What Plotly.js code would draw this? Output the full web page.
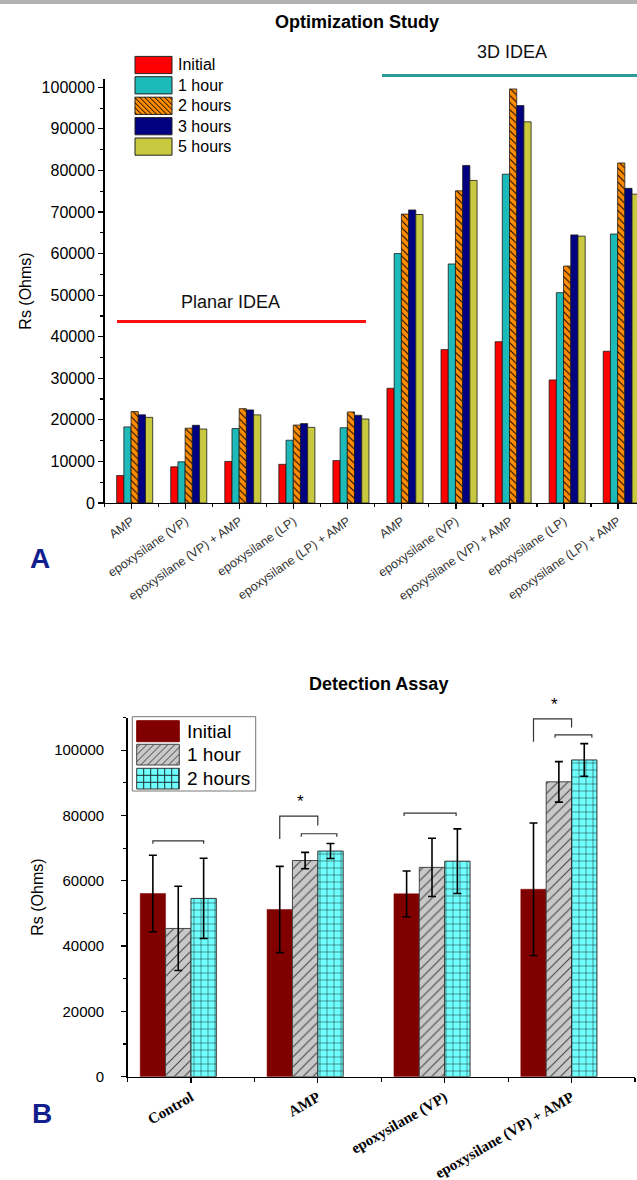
<!DOCTYPE html>
<html>
<head>
<meta charset="utf-8">
<script src="https://cdn.plot.ly/plotly-3.0.1.min.js"></script>
<style>html,body{margin:0;padding:0;background:#fff;}#chart{width:637px;height:1180px;}</style>
</head>
<body>
<div id="chart"></div>
<script>
// ---------- Data: Optimization Study (panel A) ----------
const categoriesA = ['AMP', 'epoxysilane (VP)', 'epoxysilane (VP) + AMP', 'epoxysilane (LP)', 'epoxysilane (LP) + AMP',
                     'AMP', 'epoxysilane (VP)', 'epoxysilane (VP) + AMP', 'epoxysilane (LP)', 'epoxysilane (LP) + AMP'];
const seriesNamesA = ['Initial', '1 hour', '2 hours', '3 hours', '5 hours'];
const initialA = [6600, 8700, 10000, 9300, 10200, 27600, 36900, 38800, 29600, 36500];
const hour1A   = [18300, 9900, 17900, 15100, 18100, 60000, 57500, 79100, 50600, 64700];
const hours2A  = [22000, 18000, 22700, 18750, 21900, 69500, 75100, 99600, 57000, 81800];
const hours3A  = [21200, 18700, 22400, 19100, 21100, 70500, 81200, 95600, 64500, 75700];
const hours5A  = [20600, 17800, 21200, 18200, 20200, 69400, 77600, 91700, 64200, 74300];
const yTicksA  = [0, 10000, 20000, 30000, 40000, 50000, 60000, 70000, 80000, 90000, 100000];

// ---------- Data: Detection Assay (panel B) ----------
const categoriesB = ['Control', 'AMP', 'epoxysilane (VP)', 'epoxysilane (VP) + AMP'];
const seriesNamesB = ['Initial', '1 hour', '2 hours'];
const initialB    = [56100, 51200, 56000, 57400];
const initialErrB = [11700, 13200, 7000, 20300];
const hour1B      = [45400, 66200, 64100, 90300];
const hour1ErrB   = [12900, 2500, 8900, 6200];
const hours2B     = [54600, 69100, 66000, 97000];
const hours2ErrB  = [12300, 2300, 9900, 5000];
const yTicksB     = [0, 20000, 40000, 60000, 80000, 100000];

// ---------- helpers (pixel -> paper) ----------
const W = 637, H = 1180;
const px = x => x / W;
const py = y => 1 - y / H;

function hatch(x0, y0, x1, y1, s, kind) {
  let d = '';
  const seg = (ax, ay, bx, by) => { d += 'M' + px(ax) + ',' + py(ay) + 'L' + px(bx) + ',' + py(by); };
  if (kind === '\\') {
    for (let c = y0 - x1 + s / 2; c < y1 - x0; c += s) {
      const xa = Math.max(x0, y0 - c), xb = Math.min(x1, y1 - c);
      if (xb > xa) seg(xa, xa + c, xb, xb + c);
    }
  } else if (kind === '/') {
    for (let c = x0 + y0 + s / 2; c < x1 + y1; c += s) {
      const xa = Math.max(x0, c - y1), xb = Math.min(x1, c - y0);
      if (xb > xa) seg(xa, c - xa, xb, c - xb);
    }
  } else {
    for (let x = x0 + s; x < x1 - 0.5; x += s) seg(x, y0, x, y1);
    for (let y = y0 + s; y < y1 - 0.5; y += s) seg(x0, y, x1, y);
  }
  return d;
}

// ---------- styles ----------
const stylesA = [
  {color: '#FF0000'},
  {color: '#1DBABA'},
  {color: '#FF8C00', pattern: {shape: '\\', fgcolor: '#000', bgcolor: '#FF8C00', size: 5, solidity: 0.2, fillmode: 'replace'}},
  {color: '#000080'},
  {color: '#C9C940'}
];
const valuesA = [initialA, hour1A, hours2A, hours3A, hours5A];
const barWA = 0.1333, startA = -0.275;
const idxA = categoriesA.map((_, i) => i);

const traces = [];
valuesA.forEach((vals, i) => {
  const st = stylesA[i];
  const marker = {color: st.color, line: {color: '#1a1a1a', width: 0.8}};
  if (st.pattern) marker.pattern = st.pattern;
  traces.push({
    type: 'bar', name: seriesNamesA[i], x: idxA, y: vals,
    offset: startA + i * barWA, width: barWA,
    marker: marker, xaxis: 'x', yaxis: 'y', hoverinfo: 'y'
  });
});

const valuesB = [initialB, hour1B, hours2B];
const errsB = [initialErrB, hour1ErrB, hours2ErrB];
const stylesB = [
  {color: '#800000', line: {color: '#800000', width: 0.5}},
  {color: '#C8C8C8', line: {color: '#444', width: 1},
   pattern: {shape: '/', fgcolor: '#444', bgcolor: '#C8C8C8', size: 7, solidity: 0.15, fillmode: 'replace'}},
  {color: '#70FFFF', line: {color: '#333', width: 1},
   pattern: {shape: '+', fgcolor: '#1a3030', bgcolor: '#70FFFF', size: 7, solidity: 0.14, fillmode: 'replace'}}
];
const barWB = 0.2, startB = -0.4;
const idxB = categoriesB.map((_, i) => i);
valuesB.forEach((vals, i) => {
  const st = stylesB[i];
  const marker = {color: st.color, line: st.line};
  if (st.pattern) marker.pattern = st.pattern;
  traces.push({
    type: 'bar', name: seriesNamesB[i], x: idxB, y: vals,
    offset: startB + i * barWB, width: barWB,
    marker: marker, xaxis: 'x2', yaxis: 'y2', hoverinfo: 'y',
    error_y: {type: 'data', array: errsB[i], visible: true, color: '#000', thickness: 1.6, width: 4}
  });
});

// ---------- shapes & annotations ----------
const shapes = [];
const annotations = [];

// gray strip on top
shapes.push({type: 'rect', xref: 'paper', yref: 'paper', x0: 0, x1: 1, y0: py(4), y1: 1, fillcolor: '#B3B3B3', line: {width: 0}});

// Planar / 3D IDEA markers
shapes.push({type: 'line', xref: 'paper', yref: 'paper', x0: px(117), x1: px(366), y0: py(321.5), y1: py(321.5), line: {color: '#FF1010', width: 3}});
shapes.push({type: 'line', xref: 'paper', yref: 'paper', x0: px(382), x1: px(640), y0: py(75.5), y1: py(75.5), line: {color: '#2A9C9C', width: 3}});
annotations.push({xref: 'paper', yref: 'paper', x: px(230.5), y: py(302), text: 'Planar IDEA', showarrow: false, xanchor: 'center', yanchor: 'middle', font: {size: 18, color: '#111'}});
annotations.push({xref: 'paper', yref: 'paper', x: px(511.5), y: py(52.5), text: '3D IDEA', showarrow: false, xanchor: 'center', yanchor: 'middle', font: {size: 18, color: '#111'}});

// panel letters and second title
annotations.push({xref: 'paper', yref: 'paper', x: px(40), y: py(558), text: '<b>A</b>', showarrow: false, xanchor: 'center', yanchor: 'middle', font: {size: 28, color: '#12208E'}});
annotations.push({xref: 'paper', yref: 'paper', x: px(42), y: py(1113), text: '<b>B</b>', showarrow: false, xanchor: 'center', yanchor: 'middle', font: {size: 28, color: '#12208E'}});
annotations.push({xref: 'paper', yref: 'paper', x: px(378), y: py(684), text: '<b>Detection Assay</b>', showarrow: false, xanchor: 'center', yanchor: 'middle', font: {size: 18, color: '#000'}});

// legend A (custom, no frame)
const legA = [
  {fill: '#FF0000'}, {fill: '#1DBABA'}, {fill: '#FF8C00', hatch: '\\'}, {fill: '#000080'}, {fill: '#C9C940'}
];
const legACenters = [65, 85.3, 105.8, 126.2, 146.6];
legA.forEach((it, i) => {
  const yc = legACenters[i], x0 = 135, x1 = 172, y0 = yc - 8.6, y1 = yc + 8.6;
  shapes.push({type: 'rect', xref: 'paper', yref: 'paper', x0: px(x0), x1: px(x1), y0: py(y1), y1: py(y0), fillcolor: it.fill, line: {color: '#222', width: 1}});
  if (it.hatch) shapes.push({type: 'path', xref: 'paper', yref: 'paper', path: hatch(x0, y0, x1, y1, 5, it.hatch), line: {color: '#000', width: 1}});
  annotations.push({xref: 'paper', yref: 'paper', x: px(176), y: py(yc), text: seriesNamesA[i], showarrow: false, xanchor: 'left', yanchor: 'middle', font: {size: 16, color: '#000'}});
});

// legend B (framed)
shapes.push({type: 'rect', xref: 'paper', yref: 'paper', x0: px(132.3), x1: px(255.7), y0: py(791), y1: py(716.7), fillcolor: '#fff', line: {color: '#777', width: 1}});
const legB = [
  {fill: '#800000', line: '#800000'}, {fill: '#C8C8C8', hatch: '/', hc: '#444', line: '#444'}, {fill: '#70FFFF', hatch: '+', hc: '#1a3030', line: '#333'}
];
const legBRows = [[720.7, 741.7], [744.3, 765], [768.3, 789]];
legB.forEach((it, i) => {
  const [y0, y1] = legBRows[i], x0 = 136.7, x1 = 179.3;
  shapes.push({type: 'rect', xref: 'paper', yref: 'paper', x0: px(x0), x1: px(x1), y0: py(y1), y1: py(y0), fillcolor: it.fill, line: {color: it.line, width: 1}});
  if (it.hatch) shapes.push({type: 'path', xref: 'paper', yref: 'paper', path: hatch(x0, y0, x1, y1, 7, it.hatch), line: {color: it.hc, width: 1}});
  annotations.push({xref: 'paper', yref: 'paper', x: px(185), y: py((y0 + y1) / 2), text: seriesNamesB[i], showarrow: false, xanchor: 'left', yanchor: 'middle', font: {size: 19, color: '#000'}});
});

// significance brackets (panel B)
const bracketDefs = [
  {g: 0, a: -0.3,  b: 0.1,  top: 72200,  l: 71300,  r: 71300},
  {g: 1, a: -0.3,  b: 0.0,  top: 79800,  l: 72800,  r: 76900},
  {g: 1, a: -0.13, b: 0.15, top: 74400,  l: 73500,  r: 73500},
  {g: 2, a: -0.32, b: 0.09, top: 80700,  l: 79800,  r: 79800},
  {g: 3, a: -0.3,  b: 0.0,  top: 109600, l: 102600, r: 106900},
  {g: 3, a: -0.13, b: 0.16, top: 104700, l: 103800, r: 103800}
];
bracketDefs.forEach(bd => {
  const xa = bd.g + bd.a, xb = bd.g + bd.b;
  shapes.push({type: 'path', xref: 'x2', yref: 'y2',
    path: 'M' + xa + ',' + bd.l + 'L' + xa + ',' + bd.top + 'L' + xb + ',' + bd.top + 'L' + xb + ',' + bd.r,
    line: {color: '#333', width: 1.2}});
});
annotations.push({xref: 'x2', yref: 'y2', x: 1 - 0.14, y: 84300, text: '*', showarrow: false, xanchor: 'center', yanchor: 'middle', font: {size: 17, color: '#000'}});
annotations.push({xref: 'x2', yref: 'paper', x: 3 - 0.137, y: py(704), text: '*', showarrow: false, xanchor: 'center', yanchor: 'middle', font: {size: 17, color: '#000'}});

const axisCommon = {showline: true, linecolor: '#000', linewidth: 1.3, showgrid: false, zeroline: false, ticks: 'outside', tickcolor: '#000', ticklen: 5, tickwidth: 1.2};

const layout = {
  width: W, height: H,
  margin: {l: 0, r: 0, t: 0, b: 0},
  paper_bgcolor: '#fff', plot_bgcolor: 'rgba(0,0,0,0)',
  showlegend: false, barmode: 'overlay',
  font: {family: 'Arial, "Liberation Sans", sans-serif', color: '#000'},
  title: {text: '<b>Optimization Study</b>', x: px(357), y: py(22), xanchor: 'center', yanchor: 'middle', xref: 'paper', yref: 'paper', font: {size: 18, color: '#000'}},
  xaxis: Object.assign({}, axisCommon, {
    domain: [px(104.5), 1], range: [-0.5, 9.35], anchor: 'y',
    tickmode: 'array', tickvals: idxA, ticktext: categoriesA, tickangle: -35,
    tickfont: {size: 12.5, color: '#333'},
    minor: {tickmode: 'linear', tick0: 0.5, dtick: 1, ticks: 'outside', ticklen: 3, tickcolor: '#000', showgrid: false}
  }),
  yaxis: Object.assign({}, axisCommon, {
    domain: [py(503), py(79)], range: [0, 102000], anchor: 'x',
    tickmode: 'array', tickvals: yTicksA, tickformat: 'd',
    tickfont: {size: 16},
    minor: {tickmode: 'linear', tick0: 0, dtick: 5000, ticks: 'outside', ticklen: 3, tickcolor: '#000', showgrid: false},
    title: {text: 'Rs (Ohms)', font: {size: 16}, standoff: 6}
  }),
  xaxis2: Object.assign({}, axisCommon, {
    domain: [px(127.5), px(635)], range: [-0.5, 3.5], anchor: 'y2',
    tickmode: 'array', tickvals: idxB, ticktext: categoriesB, tickangle: -30,
    tickfont: {size: 15, family: '"Liberation Serif", "Times New Roman", serif', weight: 'bold', color: '#000'},
    minor: {tickmode: 'linear', tick0: 0.5, dtick: 1, ticks: 'outside', ticklen: 4, tickcolor: '#000', showgrid: false}
  }),
  yaxis2: Object.assign({}, axisCommon, {
    domain: [py(1076.7), py(717.5)], range: [0, 110000], anchor: 'x2',
    tickmode: 'array', tickvals: yTicksB, tickformat: 'd', ticklabelstandoff: 14,
    tickfont: {size: 15},
    minor: {tickmode: 'linear', tick0: 0, dtick: 10000, ticks: 'outside', ticklen: 3, tickcolor: '#000', showgrid: false},
    title: {text: 'Rs (Ohms)', font: {size: 16}, standoff: 6}
  }),
  shapes: shapes,
  annotations: annotations
};

Plotly.newPlot('chart', traces, layout, {staticPlot: true, displayModeBar: false});
</script>
</body>
</html>
